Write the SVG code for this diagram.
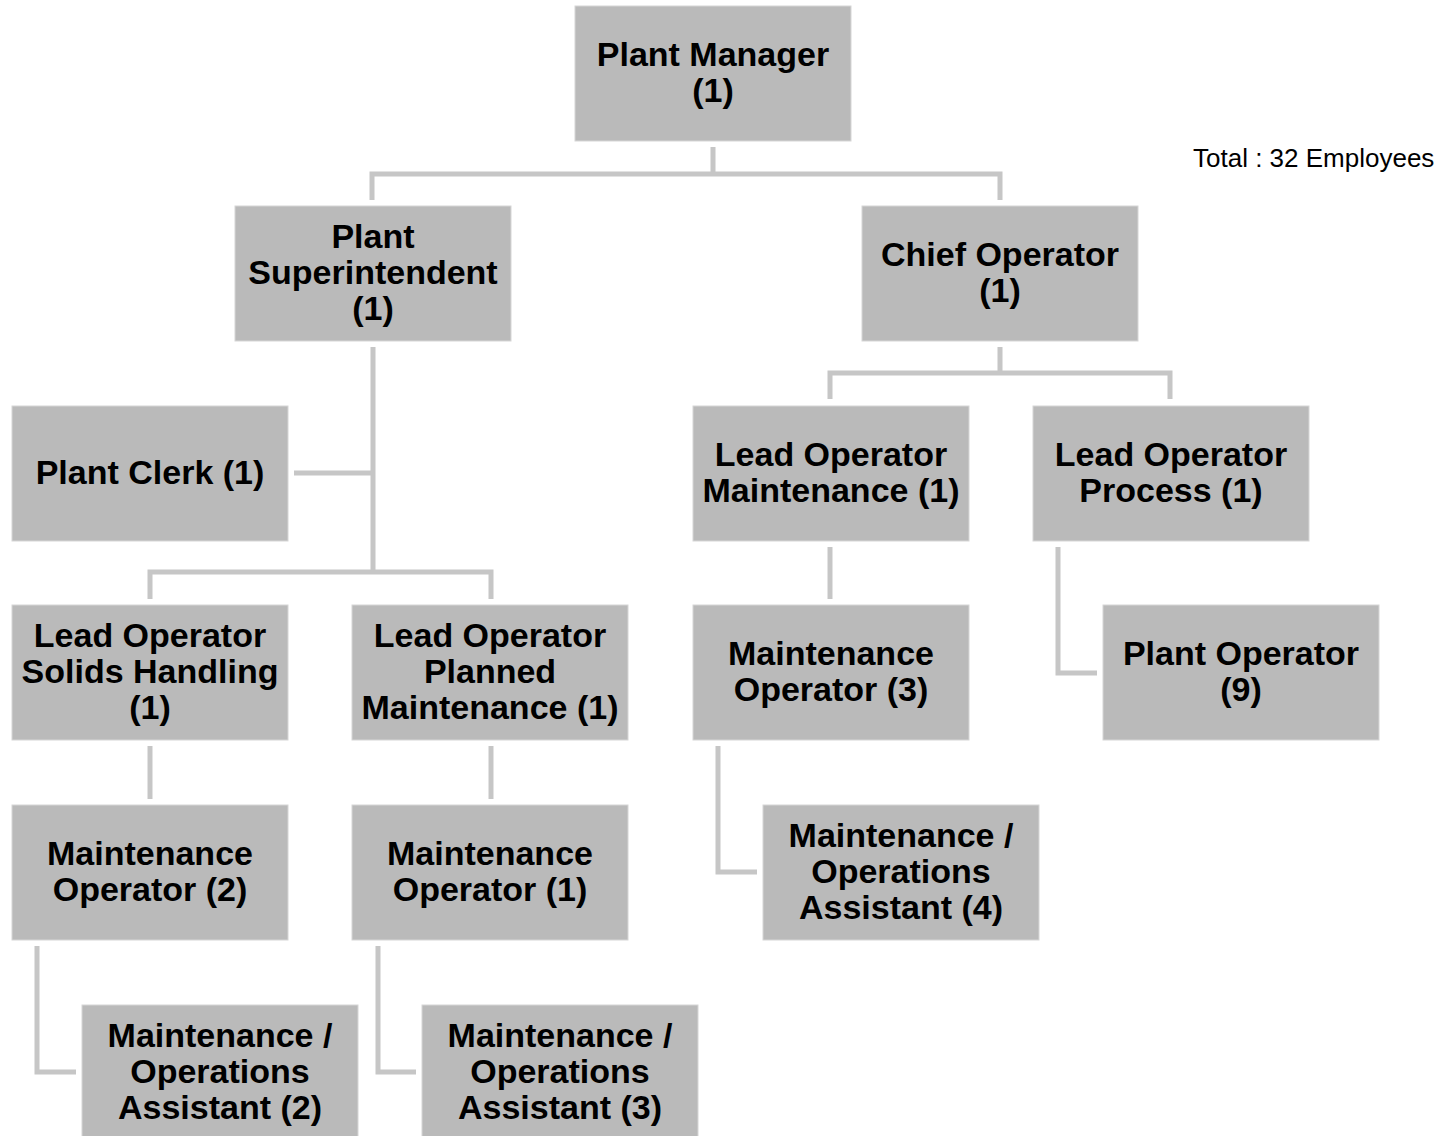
<svg xmlns="http://www.w3.org/2000/svg" width="1447" height="1136" viewBox="0 0 1447 1136">
  <style>
    .box { fill: #bababa; stroke: #d6d6d6; stroke-width: 1; }
    .lbl { font-family: "Liberation Sans", Arial, sans-serif; font-weight: bold; font-size: 34px; fill: #000; text-anchor: middle; }
    .note { font-family: "Liberation Sans", Arial, sans-serif; font-size: 26px; fill: #000; }
    .wire { fill: none; stroke: #c6c6c6; stroke-width: 5; stroke-linejoin: miter; }
  </style>
  <rect width="1447" height="1136" fill="#ffffff"/>

  <!-- reporting lines -->
  <g id="connectors">
    <path class="wire" d="M713 147 V174 M372 200 V174 H1000 V200"/>
    <path class="wire" d="M373 347 V572 M294 473 H373 M150 599 V572 H491 V599"/>
    <path class="wire" d="M1000 347 V373 M830 399 V373 H1170 V399"/>
    <path class="wire" d="M830 547 V599"/>
    <path class="wire" d="M1058 547 V673 H1097"/>
    <path class="wire" d="M718 746 V872 H757"/>
    <path class="wire" d="M150 746 V799"/>
    <path class="wire" d="M491 746 V799"/>
    <path class="wire" d="M37 946 V1072 H76"/>
    <path class="wire" d="M378 946 V1072 H416"/>
  </g>

  <g id="plant-manager">
    <rect class="box" x="575" y="6" width="276" height="135"/>
    <text class="lbl" x="713" y="66">Plant Manager</text>
    <text class="lbl" x="713" y="102">(1)</text>
  </g>

  <g id="plant-superintendent">
    <rect class="box" x="235" y="206" width="276" height="135"/>
    <text class="lbl" x="373" y="248">Plant</text>
    <text class="lbl" x="373" y="284">Superintendent</text>
    <text class="lbl" x="373" y="320">(1)</text>
  </g>

  <g id="chief-operator">
    <rect class="box" x="862" y="206" width="276" height="135"/>
    <text class="lbl" x="1000" y="266">Chief Operator</text>
    <text class="lbl" x="1000" y="302">(1)</text>
  </g>

  <g id="plant-clerk">
    <rect class="box" x="12" y="406" width="276" height="135"/>
    <text class="lbl" x="150" y="484">Plant Clerk (1)</text>
  </g>

  <g id="lead-operator-maintenance">
    <rect class="box" x="693" y="406" width="276" height="135"/>
    <text class="lbl" x="831" y="466">Lead Operator</text>
    <text class="lbl" x="831" y="502">Maintenance (1)</text>
  </g>

  <g id="lead-operator-process">
    <rect class="box" x="1033" y="406" width="276" height="135"/>
    <text class="lbl" x="1171" y="466">Lead Operator</text>
    <text class="lbl" x="1171" y="502">Process (1)</text>
  </g>

  <g id="lead-operator-solids">
    <rect class="box" x="12" y="605" width="276" height="135"/>
    <text class="lbl" x="150" y="647">Lead Operator</text>
    <text class="lbl" x="150" y="683">Solids Handling</text>
    <text class="lbl" x="150" y="719">(1)</text>
  </g>

  <g id="lead-operator-planned">
    <rect class="box" x="352" y="605" width="276" height="135"/>
    <text class="lbl" x="490" y="647">Lead Operator</text>
    <text class="lbl" x="490" y="683">Planned</text>
    <text class="lbl" x="490" y="719">Maintenance (1)</text>
  </g>

  <g id="maintenance-operator-3">
    <rect class="box" x="693" y="605" width="276" height="135"/>
    <text class="lbl" x="831" y="665">Maintenance</text>
    <text class="lbl" x="831" y="701">Operator (3)</text>
  </g>

  <g id="plant-operator">
    <rect class="box" x="1103" y="605" width="276" height="135"/>
    <text class="lbl" x="1241" y="665">Plant Operator</text>
    <text class="lbl" x="1241" y="701">(9)</text>
  </g>

  <g id="maintenance-operator-2">
    <rect class="box" x="12" y="805" width="276" height="135"/>
    <text class="lbl" x="150" y="865">Maintenance</text>
    <text class="lbl" x="150" y="901">Operator (2)</text>
  </g>

  <g id="maintenance-operator-1">
    <rect class="box" x="352" y="805" width="276" height="135"/>
    <text class="lbl" x="490" y="865">Maintenance</text>
    <text class="lbl" x="490" y="901">Operator (1)</text>
  </g>

  <g id="ops-assistant-4">
    <rect class="box" x="763" y="805" width="276" height="135"/>
    <text class="lbl" x="901" y="847">Maintenance /</text>
    <text class="lbl" x="901" y="883">Operations</text>
    <text class="lbl" x="901" y="919">Assistant (4)</text>
  </g>

  <g id="ops-assistant-2">
    <rect class="box" x="82" y="1005" width="276" height="135"/>
    <text class="lbl" x="220" y="1047">Maintenance /</text>
    <text class="lbl" x="220" y="1083">Operations</text>
    <text class="lbl" x="220" y="1119">Assistant (2)</text>
  </g>

  <g id="ops-assistant-3">
    <rect class="box" x="422" y="1005" width="276" height="135"/>
    <text class="lbl" x="560" y="1047">Maintenance /</text>
    <text class="lbl" x="560" y="1083">Operations</text>
    <text class="lbl" x="560" y="1119">Assistant (3)</text>
  </g>

  <text id="total" class="note" x="1193" y="167">Total : 32 Employees</text>
</svg>
